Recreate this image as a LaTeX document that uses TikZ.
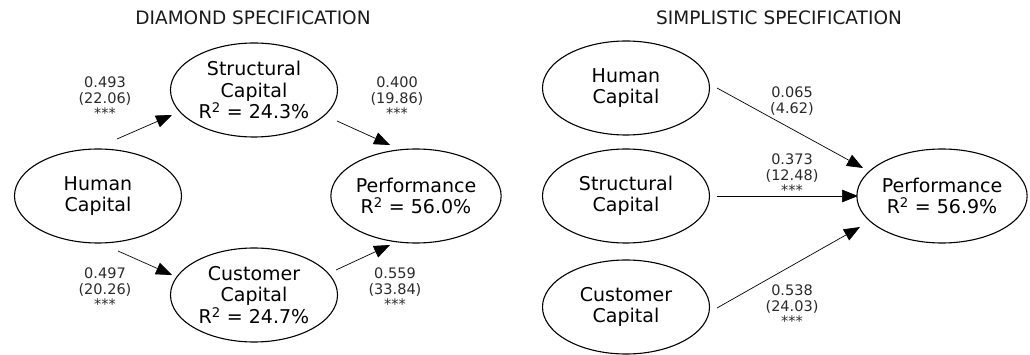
\documentclass[tikz,border=0pt]{standalone}
\usepackage{fontspec}
\setmainfont{DejaVu Sans}
\usetikzlibrary{shapes.geometric,arrows.meta}
\definecolor{lbl}{HTML}{2A2A2A}
\definecolor{ttlc}{HTML}{1A1A1A}
\tikzset{
  var/.style={ellipse,draw,line width=1.1pt,minimum width=167pt,minimum height=94pt,inner sep=0pt,align=center,font=\fontsize{19}{21.5}\selectfont},
  coef/.style={align=center,text=lbl,inner sep=0pt,font=\fontsize{14.5}{15.5}\selectfont},
  ttl/.style={inner sep=0pt,text=ttlc,font=\fontsize{18.5}{20}\selectfont},
  path/.style={line width=0.7pt,-{Triangle[length=16pt,width=12.5pt]}}
}
\begin{document}
\begin{tikzpicture}[x=1pt,y=-1pt]
\useasboundingbox (0,0) rectangle (1030,355);
% titles
\node[ttl] (t1) at (253,18) {DIAMOND SPECIFICATION};
\node[ttl] (t2) at (779,18) {SIMPLISTIC SPECIFICATION};
% left panel
\node[var] (lsc) at (254,90) {Structural\\Capital\\R\textsuperscript{2} = 24.3\%};
\node[var] (lhc) at (98,196) {Human\\Capital};
\node[var] (lpf) at (416,196) {Performance\\R\textsuperscript{2} = 56.0\%};
\node[var] (lcc) at (254,295) {Customer\\Capital\\R\textsuperscript{2} = 24.7\%};
\coordinate (a1s) at (117,139); \coordinate (a1e) at (172,115);
\coordinate (a2s) at (337,121); \coordinate (a2e) at (390,145);
\coordinate (a3s) at (118,251); \coordinate (a3e) at (172,275);
\coordinate (a4s) at (336,270); \coordinate (a4e) at (390,245);
\draw[path] (a1s) -- (a1e);
\draw[path] (a2s) -- (a2e);
\draw[path] (a3s) -- (a3e);
\draw[path] (a4s) -- (a4e);
\node[coef] (c1) at (105,98) {0.493\\(22.06)\\***};
\node[coef] (c2) at (397,98) {0.400\\(19.86)\\***};
\node[coef] (c3) at (105,289) {0.497\\(20.26)\\***};
\node[coef] (c4) at (395,289) {0.559\\(33.84)\\***};
% right panel
\node[var] (rhc) at (626,88) {Human\\Capital};
\node[var] (rsc) at (626,196) {Structural\\Capital};
\node[var] (rcc) at (626,307) {Customer\\Capital};
\node[var] (rpf) at (942,196) {Performance\\R\textsuperscript{2} = 56.9\%};
\coordinate (b1s) at (717,88); \coordinate (b1e) at (863,168);
\coordinate (b2s) at (717,196); \coordinate (b2e) at (858,196);
\coordinate (b3s) at (717,308); \coordinate (b3e) at (860,227);
\draw[path] (b1s) -- (b1e);
\draw[path] (b2s) -- (b2e);
\draw[path] (b3s) -- (b3e);
\node[coef] (d1) at (792,101) {0.065\\(4.62)};
\node[coef] (d2) at (792,175) {0.373\\(12.48)\\***};
\node[coef] (d3) at (792,306) {0.538\\(24.03)\\***};
\end{tikzpicture}
\end{document}
